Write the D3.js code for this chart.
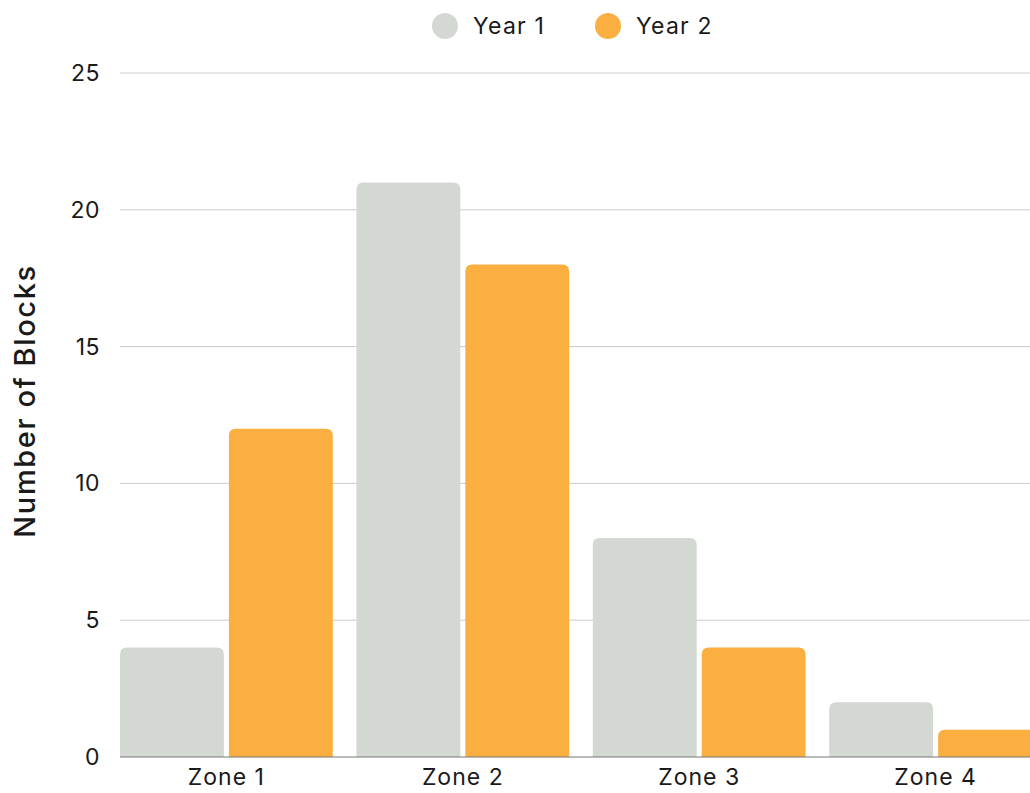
<!DOCTYPE html>
<html>
<head>
<meta charset="utf-8">
<script src="https://cdn.jsdelivr.net/npm/d3@7"></script>
<style>
  body { margin: 0; background: #fff; overflow: hidden; }
  text { font-family: "Inter", "Noto Sans", sans-serif; fill: #1a1a1a; }
</style>
</head>
<body>
<div id="chart"></div>
<script>
const zones = ["Zone 1", "Zone 2", "Zone 3", "Zone 4"];
const seriesNames = ["Year 1", "Year 2"];
const year1 = [4, 21, 8, 2];
const year2 = [12, 18, 4, 1];
const yTicks = [0, 5, 10, 15, 20, 25];
const colors = ["#d3d9d2", "#fbaf41"];

const width = 1030, height = 793;
const margin = { top: 73, left: 120, bottom: 36 };

const svg = d3.select("#chart").append("svg")
    .attr("width", width)
    .attr("height", height);

const y = d3.scaleLinear().domain([0, 25]).range([757, 73]);

const x = d3.scaleBand()
    .domain(zones)
    .range([margin.left, 1042])
    .paddingInner(0.1)
    .paddingOuter(0);

const xSub = d3.scaleBand()
    .domain(seriesNames)
    .range([0, x.bandwidth()])
    .paddingInner(0.046);

// gridlines
svg.append("g")
    .selectAll("line")
    .data(yTicks.filter(d => d > 0))
    .enter().append("line")
    .attr("x1", margin.left)
    .attr("x2", width)
    .attr("y1", d => y(d))
    .attr("y2", d => y(d))
    .attr("stroke", "#cccccc")
    .attr("stroke-width", 1);

// y tick labels
svg.append("g")
    .selectAll("text")
    .data(yTicks)
    .enter().append("text")
    .attr("x", 100)
    .attr("y", d => y(d))
    .attr("dy", "0.35em")
    .attr("text-anchor", "end")
    .attr("font-size", 23)
    .attr("letter-spacing", 0.5)
    .text(d => d);

// bars with rounded tops
const rows = [];
zones.forEach((z, i) => {
    rows.push({ zone: z, series: "Year 1", value: year1[i], color: colors[0] });
    rows.push({ zone: z, series: "Year 2", value: year2[i], color: colors[1] });
});

function topRounded(x0, y0, w, h, r) {
    r = Math.min(r, h, w / 2);
    return `M${x0},${y0 + h}V${y0 + r}Q${x0},${y0} ${x0 + r},${y0}H${x0 + w - r}Q${x0 + w},${y0} ${x0 + w},${y0 + r}V${y0 + h}Z`;
}

svg.append("g")
    .selectAll("path")
    .data(rows)
    .enter().append("path")
    .attr("fill", d => d.color)
    .attr("d", d => {
        const bx = x(d.zone) + xSub(d.series);
        const by = y(d.value);
        return topRounded(bx, by, xSub.bandwidth(), y(0) - by, 7);
    });

// baseline
svg.append("line")
    .attr("x1", margin.left)
    .attr("x2", width)
    .attr("y1", y(0))
    .attr("y2", y(0))
    .attr("stroke", "#777")
    .attr("stroke-width", 1);

// x labels
svg.append("g")
    .selectAll("text")
    .data(zones)
    .enter().append("text")
    .attr("x", d => x(d) + x.bandwidth() / 2)
    .attr("y", 777)
    .attr("dy", "0.35em")
    .attr("text-anchor", "middle")
    .attr("font-size", 23)
    .attr("letter-spacing", 1)
    .text(d => d);

// y axis title
svg.append("text")
    .attr("transform", "translate(25,401) rotate(-90)")
    .attr("dy", "0.35em")
    .attr("text-anchor", "middle")
    .attr("font-size", 29)
    .attr("font-weight", 500)
    .attr("letter-spacing", 1.6)
    .text("Number of Blocks");

// legend
const legendX = [445, 608];
const legend = svg.append("g")
    .selectAll("g")
    .data(seriesNames)
    .enter().append("g")
    .attr("transform", (d, i) => `translate(${legendX[i]},26)`);

legend.append("circle")
    .attr("r", 13)
    .attr("fill", (d, i) => colors[i]);

legend.append("text")
    .attr("x", 28)
    .attr("dy", "0.35em")
    .attr("font-size", 23)
    .attr("letter-spacing", 1.2)
    .text(d => d);
</script>
</body>
</html>
